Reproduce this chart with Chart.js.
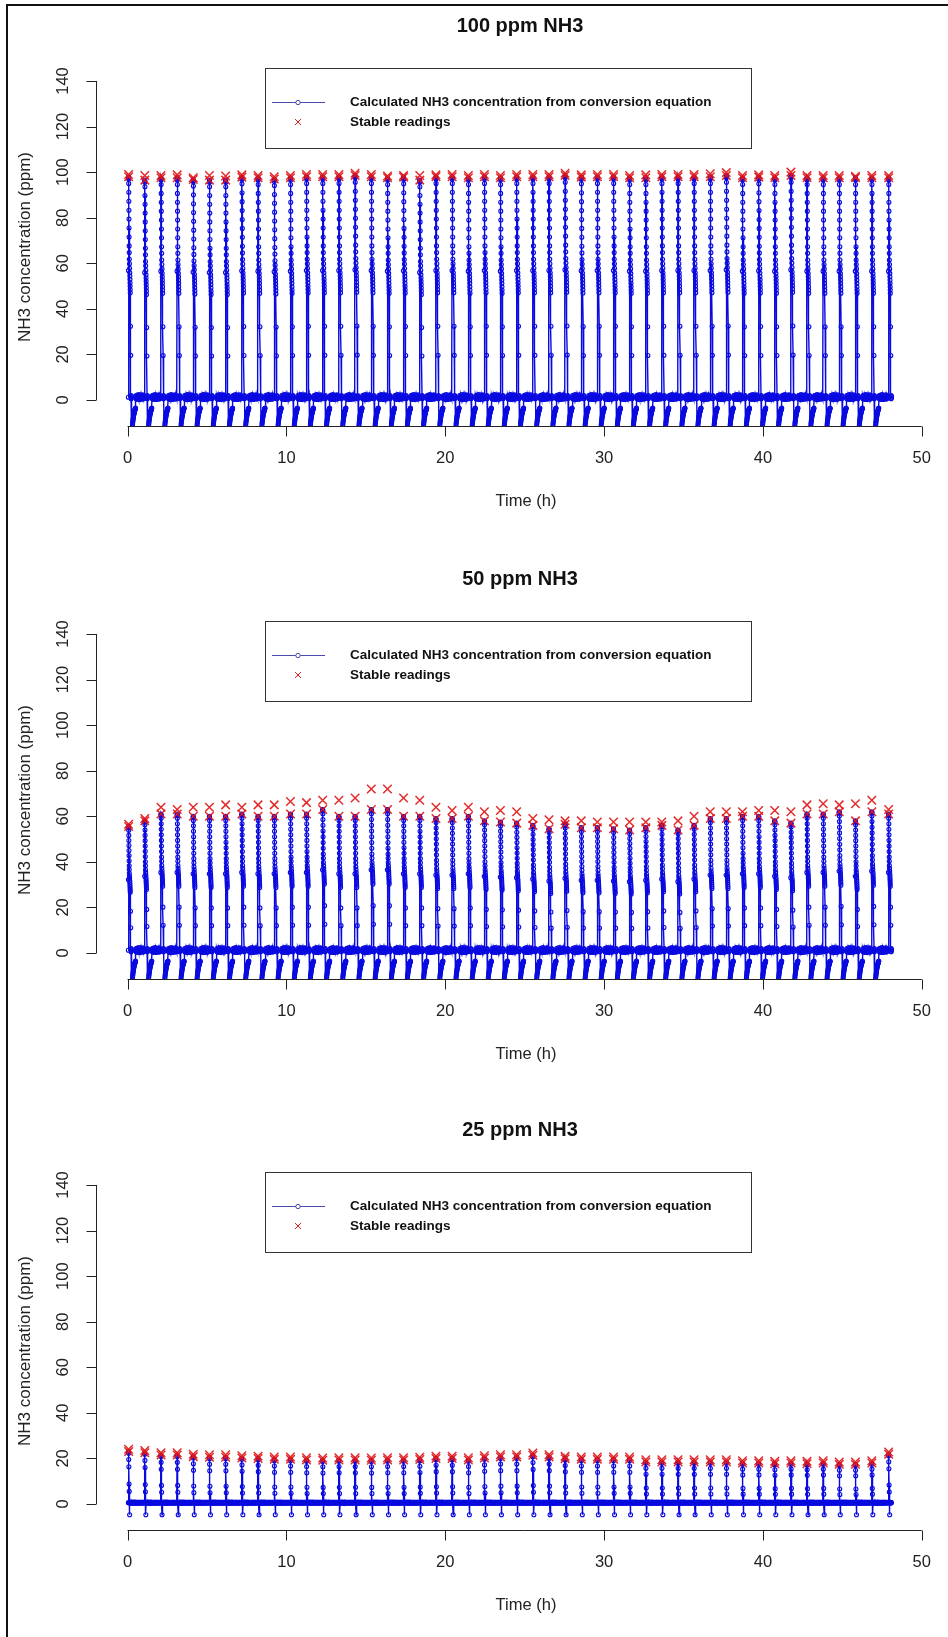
<!DOCTYPE html>
<html lang="en">
<head>
  <meta charset="UTF-8" />
  <title>NH3 concentration</title>
  <script src="https://cdn.jsdelivr.net/npm/chart.js"></script>
  <style>
    html, body { margin: 0; padding: 0; background: #fff; }
    body { width: 948px; height: 1637px; position: relative; overflow: hidden; }
    .frame {
      position: absolute; left: 6px; top: 4px; width: 960px; height: 1660px;
      border-left: 2px solid #111; border-top: 2px solid #111;
    }
    .panel { position: absolute; left: 0; width: 948px; height: 552px; }
  </style>
</head>
<body>
  <div class="frame"></div>
  <div class="panel" style="top:0px"><canvas id="c100" width="948" height="552"></canvas></div>
  <div class="panel" style="top:553px"><canvas id="c50" width="948" height="552"></canvas></div>
  <div class="panel" style="top:1104px"><canvas id="c25" width="948" height="552"></canvas></div>

  <script>
    // start time (h) of each exposure cycle
    const cycleStart = [0.05, 1.07, 2.09, 3.11, 4.12, 5.14, 6.16, 7.18, 8.20, 9.22, 10.24, 11.25,
      12.27, 13.29, 14.31, 15.33, 16.35, 17.36, 18.38, 19.40, 20.42, 21.44, 22.45, 23.46,
      24.48, 25.50, 26.52, 27.53, 28.55, 29.56, 30.58, 31.59, 32.61, 33.62, 34.64, 35.65,
      36.67, 37.68, 38.70, 39.72, 40.73, 41.75, 42.76, 43.78, 44.79, 45.81, 46.84, 47.90];
    const endTime = 48.1;   // logging stopped here

    // stable readings (upper / lower cross of each cycle)
    const stableHi100 = [99, 98.5, 98.5, 98.8, 97.5, 98.5, 98.3, 98.8, 98.5, 98, 98.5, 99, 99, 99, 99.5, 99,
      98.3, 98.5, 98.5, 98.8, 99, 98.5, 99, 98.5, 99, 99, 99, 99.5, 98.8, 99, 99, 98.5, 98.8, 99, 99, 99,
      99.3, 99.8, 98.5, 98.8, 98.5, 100, 98.5, 98.5, 98.5, 98.2, 98.5, 98.5];
    const stableLo100 = [98, 96.5, 97.5, 97.5, 96.8, 96.5, 96.5, 97.8, 97.5, 97, 97.5, 98, 98, 98, 98.5, 98,
      97.5, 97.8, 96.5, 98, 98, 97.5, 98, 97.5, 98, 98, 98, 98.5, 97.8, 98, 98, 97.5, 97.5, 98, 98, 98,
      98, 98.5, 97.5, 97.8, 97.5, 98.5, 97.5, 97.5, 97.5, 97.5, 97.5, 97.5];

    const stableHi50 = [56.5, 59, 64, 63, 64, 64, 65, 64, 65, 65, 66.5, 66, 67, 67, 68, 72, 72, 68, 67, 64,
      62.5, 64, 62, 62.5, 62, 59, 58.5, 58, 58, 57.5, 57.5, 57.5, 57.5, 57.5, 58, 60, 62, 62, 62, 62.5,
      62.5, 62, 65, 65.5, 65, 65.5, 67, 63];
    const stableLo50 = [55.5, 58, 61, 61, 60, 60, 60, 61, 60, 60, 61, 61, 63, 60, 60, 63, 63, 60, 60, 59,
      59, 60, 58, 57.5, 57, 56, 54.5, 56.5, 55, 55, 54.5, 54, 55, 56, 54, 56, 59, 59, 60, 60,
      58, 57, 61, 61, 62, 58, 62, 61];

    const stableHi25 = [24, 23.5, 22.5, 22.5, 21.8, 21.6, 21.6, 21.2, 21, 20.6, 20.6, 20.3, 20.2, 20.3,
      20.3, 20.2, 20.3, 20.3, 20.5, 21, 21, 20.3, 21.2, 21.6, 21.6, 22.4, 21.6, 20.9, 20.6, 20.6, 20.6,
      20.6, 19.4, 19.4, 19.4, 19.4, 19.4, 19.4, 19, 19, 18.7, 19, 18.7, 19, 18.4, 18.4, 19, 22.8];
    const stableLo25 = [23, 22.5, 21.5, 21.5, 20.8, 20.5, 20.5, 20.2, 20, 19.6, 19.6, 19.3, 19.2, 19.3,
      19.3, 19.2, 19.3, 19.3, 19.5, 20, 20, 19.3, 20.2, 20.6, 20.6, 21.4, 20.6, 19.9, 19.6, 19.6, 19.6,
      19.6, 18.4, 18.4, 18.4, 18.4, 18.4, 18.4, 18, 18, 17.7, 18, 17.7, 18, 17.4, 17.4, 18, 21.8];

    // one cycle as read from the 100 / 50 ppm runs:
    // [time after cycle start (h), share of the cycle's stable reading, offset (ppm)]
    const shapeA = [
      [0.000, 0, 1.2], [0.006, 0.58, 0], [0.012, 1.0, 0], [0.016, 0.995, 0], [0.020, 0.99, 0],
      [0.024, 0.97, 0], [0.028, 0.93, 0], [0.032, 0.89, 0], [0.036, 0.85, 0], [0.040, 0.81, 0],
      [0.044, 0.77, 0], [0.048, 0.73, 0], [0.052, 0.69, 0], [0.056, 0.66, 0], [0.060, 0.63, 0],
      [0.070, 0.61, 0], [0.080, 0.59, 0], [0.090, 0.57, 0], [0.095, 0.555, 0], [0.100, 0.54, 0],
      [0.105, 0.525, 0], [0.110, 0.51, 0], [0.115, 0.495, 0], [0.120, 0.48, 0], [0.135, 0.33, 0],
      [0.150, 0.20, 0],
      [0.160, 0, 1.6], [0.170, 0, 0.6], [0.180, 0, 2.0], [0.190, 0, 0.9], [0.200, 0, 1.4],
      [0.215, 0, -16], [0.225, 0, -14.6], [0.235, 0, -13.4], [0.245, 0, -12.3], [0.255, 0, -11.4],
      [0.265, 0, -10.6], [0.275, 0, -9.9], [0.285, 0, -9.3], [0.295, 0, -8.7], [0.305, 0, -8.2],
      [0.315, 0, -7.7], [0.325, 0, -7.2], [0.335, 0, -6.8], [0.345, 0, -6.4], [0.355, 0, -6.0],
      [0.365, 0, -5.7], [0.375, 0, -5.4], [0.385, 0, -5.1], [0.395, 0, -4.8], [0.405, 0, -4.6],
      [0.415, 0, -4.3], [0.425, 0, -4.1], [0.435, 0, -3.9], [0.445, 0, -3.7], [0.455, 0, -3.5],
      [0.470, 0, 0.8], [0.490, 0, 1.9], [0.510, 0, 0.5], [0.530, 0, 1.5], [0.550, 0, 0.3],
      [0.570, 0, 2.2], [0.590, 0, 1.0], [0.610, 0, 1.7], [0.630, 0, 0.4], [0.650, 0, 1.2],
      [0.670, 0, 2.4], [0.690, 0, 0.7], [0.710, 0, 1.6], [0.730, 0, 0.2], [0.750, 0, 1.9],
      [0.770, 0, 1.1], [0.790, 0, 0.5], [0.810, 0, 2.1], [0.830, 0, 1.3], [0.850, 0, 0.6],
      [0.870, 0, 1.8], [0.890, 0, 0.9], [0.910, 0, 2.3], [0.930, 0, 0.4], [0.950, 0, 1.4],
      [0.970, 0, 2.0], [0.990, 0, 0.8], [1.005, 0, 1.5]
    ];

    // one cycle as read from the 25 ppm run
    const shapeB = [
      [0.000, 0, 0.6], [0.008, 1.0, 0], [0.016, 0.97, 0], [0.024, 0.85, 0], [0.032, 0.71, 0],
      [0.045, 0.38, 0], [0.055, 0.24, 0], [0.065, 0, 0.5], [0.080, 0, -4.7], [0.095, 0, 0.6],
      [0.110, 0, 0.7], [0.130, 0, 0.4], [0.150, 0, 0.8], [0.170, 0, 0.5], [0.190, 0, 0.6],
      [0.210, 0, 0.9], [0.230, 0, 0.4], [0.250, 0, 0.7], [0.270, 0, 0.5], [0.290, 0, 0.8],
      [0.310, 0, 0.6], [0.330, 0, 0.3], [0.350, 0, 0.7], [0.370, 0, 0.5], [0.390, 0, 0.9],
      [0.410, 0, 0.6], [0.430, 0, 0.4], [0.450, 0, 0.7], [0.470, 0, 0.5], [0.490, 0, 0.8],
      [0.510, 0, 0.6], [0.530, 0, 0.4], [0.550, 0, 0.7], [0.570, 0, 0.5], [0.590, 0, 0.6],
      [0.610, 0, 0.8], [0.630, 0, 0.4], [0.650, 0, 0.6], [0.670, 0, 0.7], [0.690, 0, 0.5],
      [0.710, 0, 0.8], [0.730, 0, 0.4], [0.750, 0, 0.6], [0.770, 0, 0.7], [0.790, 0, 0.5],
      [0.810, 0, 0.6], [0.830, 0, 0.8], [0.850, 0, 0.4], [0.870, 0, 0.7], [0.890, 0, 0.5],
      [0.910, 0, 0.6], [0.930, 0, 0.8], [0.950, 0, 0.5], [0.970, 0, 0.6], [0.990, 0, 0.7],
      [1.005, 0, 0.5]
    ];

    const xTicks = [0, 10, 20, 30, 40, 50];
    const yTicks = [0, 20, 40, 60, 80, 100, 120, 140];

    const FONT = "'Liberation Sans', Arial, sans-serif";
    const BLUE = '#0a0ae0';

    function buildLine(levels, shape) {
      const pts = [];
      cycleStart.forEach((t0, k) => {
        shape.forEach(([d, share, off]) => {
          if (t0 + d <= endTime) pts.push({ x: t0 + d, y: share * levels[k] + off });
        });
      });
      return pts;
    }

    function buildStable(hi, lo) {
      const pts = [];
      cycleStart.forEach((t0, k) => {
        pts.push({ x: t0 + 0.014, y: hi[k] });
        pts.push({ x: t0 + 0.018, y: lo[k] });
      });
      return pts;
    }

    // R-style axes, titles and legend drawn from the chart scales
    const rDecor = {
      id: 'rDecor',
      afterDatasetsDraw(chart, args, opts) {
        const { ctx, chartArea } = chart;
        const xs = chart.scales.x, ys = chart.scales.y;
        ctx.save();
        ctx.strokeStyle = '#222';
        ctx.fillStyle = '#222';
        ctx.lineWidth = 1;

        // y axis
        const yl = Math.round(chartArea.left) + 0.5;
        ctx.beginPath();
        ctx.moveTo(yl, ys.getPixelForValue(yTicks[0]));
        ctx.lineTo(yl, ys.getPixelForValue(yTicks[yTicks.length - 1]));
        yTicks.forEach(v => {
          const p = Math.round(ys.getPixelForValue(v)) + 0.5;
          ctx.moveTo(yl, p);
          ctx.lineTo(yl - 10, p);
        });
        ctx.stroke();
        ctx.font = '16.5px ' + FONT;
        ctx.textAlign = 'center';
        ctx.textBaseline = 'middle';
        yTicks.forEach(v => {
          ctx.save();
          ctx.translate(63, ys.getPixelForValue(v));
          ctx.rotate(-Math.PI / 2);
          ctx.fillText(String(v), 0, 0);
          ctx.restore();
        });

        // x axis
        const xb = Math.round(chartArea.bottom) + 0.5;
        ctx.beginPath();
        ctx.moveTo(xs.getPixelForValue(xTicks[0]), xb);
        ctx.lineTo(xs.getPixelForValue(xTicks[xTicks.length - 1]), xb);
        xTicks.forEach(v => {
          const p = Math.round(xs.getPixelForValue(v)) + 0.5;
          ctx.moveTo(p, xb);
          ctx.lineTo(p, xb + 10);
        });
        ctx.stroke();
        xTicks.forEach(v => ctx.fillText(String(v), xs.getPixelForValue(v), xb + 32));

        // axis titles and main title
        ctx.font = '16.5px ' + FONT;
        ctx.fillText('Time (h)', 526, xb + 75);
        ctx.save();
        ctx.translate(25, (chartArea.top + chartArea.bottom) / 2);
        ctx.rotate(-Math.PI / 2);
        ctx.font = '17px ' + FONT;
        ctx.fillText('NH3 concentration (ppm)', 0, 0);
        ctx.restore();
        ctx.font = 'bold 20px ' + FONT;
        ctx.fillStyle = '#111';
        ctx.fillText(opts.title, 520, 26);

        // legend box
        const lx = 265.5, ly = Math.round(chartArea.top) + 0.5, lw = 486, lh = 80;
        ctx.fillStyle = '#fff';
        ctx.fillRect(lx, ly, lw, lh);
        ctx.strokeStyle = '#333';
        ctx.strokeRect(lx, ly, lw, lh);
        ctx.strokeStyle = '#4a4ab0';
        ctx.beginPath();
        ctx.moveTo(272, ly + 34);
        ctx.lineTo(325, ly + 34);
        ctx.stroke();
        ctx.fillStyle = '#fff';
        ctx.beginPath();
        ctx.arc(298, ly + 34, 2.2, 0, Math.PI * 2);
        ctx.fill();
        ctx.stroke();
        ctx.strokeStyle = '#d22';
        ctx.beginPath();
        ctx.moveTo(295, ly + 50.5); ctx.lineTo(301, ly + 56.5);
        ctx.moveTo(301, ly + 50.5); ctx.lineTo(295, ly + 56.5);
        ctx.stroke();
        ctx.fillStyle = '#111';
        ctx.font = 'bold 13.5px ' + FONT;
        ctx.textAlign = 'left';
        ctx.fillText('Calculated NH3 concentration from conversion equation', 350, ly + 34);
        ctx.fillText('Stable readings', 350, ly + 53.5);
        ctx.restore();
      }
    };

    function makePanel(id, title, lineData, stableData) {
      return new Chart(document.getElementById(id), {
        type: 'scatter',
        data: {
          datasets: [
            {
              label: 'Stable readings',
              data: stableData,
              pointStyle: 'crossRot',
              pointRadius: 6,
              pointBorderWidth: 1.5,
              pointBorderColor: 'rgba(225,20,20,0.9)',
              pointBackgroundColor: 'rgba(225,20,20,0.9)',
              showLine: false,
              clip: 0
            },
            {
              label: 'Calculated NH3 concentration from conversion equation',
              data: lineData,
              showLine: true,
              borderColor: BLUE,
              borderWidth: 1.4,
              pointStyle: 'circle',
              pointRadius: 2,
              pointBorderWidth: 1.1,
              pointBorderColor: BLUE,
              pointBackgroundColor: 'rgba(0,0,0,0)',
              tension: 0,
              clip: 0
            }
          ]
        },
        options: {
          responsive: false,
          animation: false,
          events: [],
          layout: { padding: { top: 68, bottom: 126, left: 96, right: 4 } },
          scales: {
            x: { type: 'linear', display: false, min: -1.987, max: 51.18 },
            y: { type: 'linear', display: false, min: -11.41, max: 145.7 }
          },
          plugins: {
            legend: { display: false },
            tooltip: { enabled: false },
            rDecor: { title: title }
          }
        },
        plugins: [rDecor]
      });
    }

    makePanel('c100', '100 ppm NH3', buildLine(stableLo100, shapeA), buildStable(stableHi100, stableLo100));
    makePanel('c50', '50 ppm NH3', buildLine(stableLo50, shapeA), buildStable(stableHi50, stableLo50));
    makePanel('c25', '25 ppm NH3', buildLine(stableLo25, shapeB), buildStable(stableHi25, stableLo25));
  </script>
</body>
</html>
